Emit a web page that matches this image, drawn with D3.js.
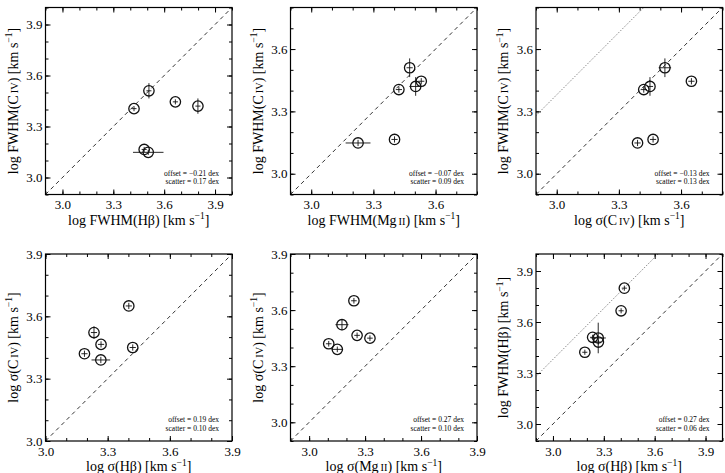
<!DOCTYPE html>
<html>
<head>
<meta charset="utf-8">
<style>
  body { margin: 0; background: #fff; }
  svg { display: block; font-family: "Liberation Serif", "DejaVu Serif", serif; }
</style>
</head>
<body>
<svg id="chart"></svg>
<script src="https://d3js.org/d3.v7.min.js"></script>
<script>
// log line widths [km/s] of the six objects, same order in every array
const fwhmCIV = [3.405, 3.51, 3.445, 3.42, 3.165, 3.148];
const fwhmCIVErr = [0.015, 0.045, 0.015, 0.045, 0.015, 0.015];
const fwhmHb = [3.422, 3.51, 3.666, 3.799, 3.482, 3.506];
const fwhmHbErr = [0.015, 0.015, 0.015, 0.015, 0.015, 0.09];
const fwhmMgII = [3.423, 3.475, 3.531, 3.504, 3.402, 3.226];
const fwhmMgIIErr = [0.015, 0.015, 0.015, 0.03, 0.015, 0.06];
const sigCIV = [3.42, 3.522, 3.65, 3.45, 3.465, 3.39];
const sigCIVErr = [0.015, 0.03, 0.015, 0.015, 0.015, 0.015];
const sigHb = [3.188, 3.234, 3.402, 3.421, 3.268, 3.267];
const sigHbErr = [0.015, 0.015, 0.015, 0.015, 0.015, 0.045];
const sigMgII = [3.105, 3.176, 3.24, 3.326, 3.257, 3.151];
const sigMgIIErr = [0.015, 0.035, 0.015, 0.015, 0.015, 0.03];

// per panel stats
const offsets = ["\u22120.21", "\u22120.07", "\u22120.13", "0.19", "0.27", "0.27"];
const scatters = ["0.17", "0.09", "0.13", "0.10", "0.10", "0.06"];
const tickValues = [3.0, 3.3, 3.6, 3.9];
const gaussOffset = 0.38; // dotted line, FWHM vs sigma

const quantities = {
  fwhmCIV: { v: fwhmCIV, e: fwhmCIVErr, kind: "FWHM", ion: ["C", "IV"] },
  fwhmHb: { v: fwhmHb, e: fwhmHbErr, kind: "FWHM", ion: ["H\u03b2", null] },
  fwhmMgII: { v: fwhmMgII, e: fwhmMgIIErr, kind: "FWHM", ion: ["Mg", "II"] },
  sigCIV: { v: sigCIV, e: sigCIVErr, kind: "\u03c3", ion: ["C", "IV"] },
  sigHb: { v: sigHb, e: sigHbErr, kind: "\u03c3", ion: ["H\u03b2", null] },
  sigMgII: { v: sigMgII, e: sigMgIIErr, kind: "\u03c3", ion: ["Mg", "II"] },
};

const panels = [
  { xq: "fwhmHb", yq: "fwhmCIV", domain: [2.9, 4.0], gauss: false },
  { xq: "fwhmMgII", yq: "fwhmCIV", domain: [2.9, 3.8], gauss: false },
  { xq: "sigCIV", yq: "fwhmCIV", domain: [2.9, 3.8], gauss: true },
  { xq: "sigHb", yq: "sigCIV", domain: [3.0, 3.9], gauss: false },
  { xq: "sigMgII", yq: "sigCIV", domain: [2.9, 3.9], gauss: false },
  { xq: "sigHb", yq: "fwhmHb", domain: [2.9, 4.0], gauss: true },
];

const width = 725;
const height = 473;
const colX = [45.5, 290.5, 536];
const rowY = [7.5, 254];
const frameW = 186.5;
const frameH = 187;

const svg = d3.select("#chart")
  .attr("width", width)
  .attr("height", height)
  .attr("viewBox", [0, 0, width, height]);

function addLabel(text, q) {
  text.append("tspan").text("log " + q.kind + "(" + q.ion[0]);
  if (q.ion[1]) {
    text.append("tspan").attr("font-size", "0.74em").attr("dx", 2).text(q.ion[1]);
  }
  text.append("tspan").text(") [km s");
  text.append("tspan").attr("font-size", "0.68em").attr("dy", -5.5).text("\u22121");
  text.append("tspan").attr("dy", 5.5).text("]");
}

function styleAxis(g) {
  g.select(".domain").remove();
  g.attr("font-family", null).attr("font-size", 13);
  g.selectAll("line").attr("stroke-width", 1);
}

panels.forEach((p, i) => {
  const col = i % 3;
  const row = Math.floor(i / 3);
  const g = svg.append("g").attr("transform", `translate(${colX[col]},${rowY[row]})`);
  const d = p.domain;

  const x = d3.scaleLinear().domain(d).range([0, frameW]);
  const y = d3.scaleLinear().domain(d).range([frameH, 0]);

  const major = tickValues.filter((t) => t >= d[0] - 1e-6 && t <= d[1] + 1e-6);
  const minor = d3.range(Math.round(d[0] * 10), Math.round(d[1] * 10) + 1).map((v) => v / 10);
  const fmt = d3.format(".1f");

  // minor ticks on all four sides
  g.append("g").attr("transform", `translate(0,${frameH})`)
    .call(d3.axisBottom(x).tickValues(minor).tickSize(-3).tickFormat("")).call(styleAxis);
  g.append("g")
    .call(d3.axisTop(x).tickValues(minor).tickSize(-3).tickFormat("")).call(styleAxis);
  g.append("g")
    .call(d3.axisLeft(y).tickValues(minor).tickSize(-3).tickFormat("")).call(styleAxis);
  g.append("g").attr("transform", `translate(${frameW},0)`)
    .call(d3.axisRight(y).tickValues(minor).tickSize(-3).tickFormat("")).call(styleAxis);

  // major ticks, labelled on bottom and left
  g.append("g").attr("transform", `translate(0,${frameH})`)
    .call(d3.axisBottom(x).tickValues(major).tickSize(-5).tickPadding(5.5).tickFormat(fmt))
    .call(styleAxis);
  g.append("g")
    .call(d3.axisTop(x).tickValues(major).tickSize(-5).tickFormat("")).call(styleAxis);
  g.append("g")
    .call(d3.axisLeft(y).tickValues(major).tickSize(-5).tickPadding(3).tickFormat(fmt))
    .call(styleAxis);
  g.append("g").attr("transform", `translate(${frameW},0)`)
    .call(d3.axisRight(y).tickValues(major).tickSize(-5).tickFormat("")).call(styleAxis);

  // clip for reference lines
  const clipId = "clip" + i;
  g.append("clipPath").attr("id", clipId)
    .append("rect").attr("width", frameW).attr("height", frameH);

  const lines = g.append("g").attr("clip-path", `url(#${clipId})`).attr("fill", "none");
  lines.append("line")
    .attr("x1", x(d[0])).attr("y1", y(d[0]))
    .attr("x2", x(d[1])).attr("y2", y(d[1]))
    .attr("stroke", "#333").attr("stroke-width", 1)
    .attr("stroke-dasharray", "4,3.5");
  if (p.gauss) {
    lines.append("line")
      .attr("x1", x(d[0])).attr("y1", y(d[0] + gaussOffset))
      .attr("x2", x(d[1])).attr("y2", y(d[1] + gaussOffset))
      .attr("stroke", "#555").attr("stroke-width", 0.9)
      .attr("stroke-dasharray", "1,1.6");
  }

  // frame
  g.append("rect")
    .attr("width", frameW).attr("height", frameH)
    .attr("fill", "none").attr("stroke", "#000").attr("stroke-width", 1.2);

  // points with error bars
  const qx = quantities[p.xq];
  const qy = quantities[p.yq];
  const pts = qx.v.map((v, k) => ({ x: v, ex: qx.e[k], y: qy.v[k], ey: qy.e[k] }));

  const marks = g.append("g").attr("stroke", "#111");
  marks.selectAll(".eh").data(pts).join("line")
    .attr("x1", (m) => x(m.x - m.ex)).attr("x2", (m) => x(m.x + m.ex))
    .attr("y1", (m) => y(m.y)).attr("y2", (m) => y(m.y))
    .attr("stroke-width", 0.9);
  marks.selectAll(".ev").data(pts).join("line")
    .attr("x1", (m) => x(m.x)).attr("x2", (m) => x(m.x))
    .attr("y1", (m) => y(m.y - m.ey)).attr("y2", (m) => y(m.y + m.ey))
    .attr("stroke-width", 0.9);
  marks.selectAll("circle").data(pts).join("circle")
    .attr("cx", (m) => x(m.x)).attr("cy", (m) => y(m.y))
    .attr("r", 5.2).attr("fill", "none").attr("stroke-width", 1.3);

  // stats
  const stats = g.append("g").attr("font-size", 7.5).attr("text-anchor", "end");
  stats.append("text").attr("x", frameW - 13).attr("y", frameH - 19)
    .text(`offset = ${offsets[i]} dex`);
  stats.append("text").attr("x", frameW - 13).attr("y", frameH - 10.5)
    .text(`scatter = ${scatters[i]} dex`);

  // axis titles
  g.append("text")
    .attr("x", frameW / 2).attr("y", frameH + 30)
    .attr("text-anchor", "middle").attr("font-size", 14)
    .call((t) => addLabel(t, qx));
  g.append("text")
    .attr("transform", `translate(-28,${frameH / 2}) rotate(-90)`)
    .attr("text-anchor", "middle").attr("font-size", 14)
    .call((t) => addLabel(t, qy));
});
</script>
</body>
</html>
